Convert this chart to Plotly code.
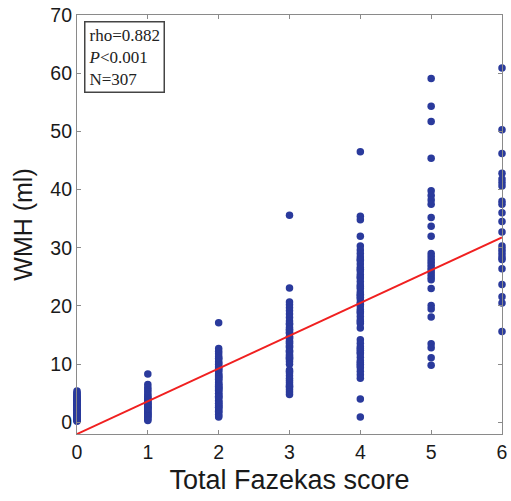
import plotly.graph_objects as go

# Total Fazekas score categories
scores = [0, 1, 2, 3, 4, 5, 6]

# WMH volumes (ml) per Fazekas score
wmh_0 = [0.2, 0.3, 0.4, 0.5, 0.6, 0.65, 0.7, 0.8, 0.9, 1.0, 1.05, 1.1, 1.2, 1.3, 1.4,
         1.45, 1.5, 1.6, 1.7, 1.8, 1.9, 2.0, 2.1, 2.15, 2.2, 2.3, 2.4, 2.5, 2.6, 2.7,
         2.8, 2.9, 3.0, 3.1, 3.2, 3.3, 3.4, 3.5, 3.6, 3.7, 3.8, 3.9, 4.0, 4.1, 4.3,
         4.5, 4.7, 4.9, 5.1, 5.4, 1.25, 2.45, 3.15, 0.85, 1.75, 2.65, 3.55, 4.2]
wmh_1 = [8.3, 6.5, 6.0, 5.6, 5.2, 4.8, 4.5, 4.2, 4.0, 3.9, 3.6, 3.5, 3.3, 3.0, 2.8,
         2.6, 2.5, 2.2, 2.0, 1.8, 1.6, 1.5, 1.3, 1.1, 1.0, 0.8, 0.5, 0.3, 2.4, 3.1]
wmh_2 = [17.1, 12.7, 12.2, 11.8, 11.3, 10.9, 10.4, 10.2, 10.0, 9.6, 9.2, 9.0, 8.8,
         8.4, 8.2, 8.0, 7.9, 7.7, 7.4, 7.1, 6.8, 6.6, 6.5, 6.2, 6.0, 5.9, 5.6, 5.5,
         5.3, 5.0, 4.9, 4.7, 4.5, 4.4, 4.1, 3.8, 3.6, 3.5, 3.2, 3.0, 2.9, 2.6, 2.5,
         2.3, 2.0, 1.9, 1.7, 1.4, 1.1, 0.9, 7.5, 5.8, 4.3, 2.7, 9.4, 11.0, 6.3, 3.3]
wmh_3 = [35.6, 23.1, 20.7, 20.2, 19.7, 19.2, 18.6, 18.0, 17.4, 17.0, 16.8, 16.3,
         15.8, 15.5, 15.3, 14.8, 14.6, 14.4, 14.0, 13.6, 13.2, 13.0, 12.8, 12.4,
         12.2, 12.0, 11.6, 11.2, 11.0, 10.8, 10.4, 10.0, 9.0, 8.8, 8.5, 8.0, 7.6,
         7.2, 6.8, 6.4, 6.2, 6.0, 5.6, 5.2, 4.8, 16.0, 13.8, 11.4]
wmh_4 = [46.5, 35.4, 34.8, 32.0, 30.3, 29.6, 29.0, 28.4, 28.0, 27.8, 27.2, 26.6,
         26.0, 25.4, 25.0, 24.8, 24.2, 23.6, 23.0, 22.4, 22.0, 21.8, 21.5, 21.2,
         20.6, 20.0, 19.4, 19.0, 18.8, 18.2, 17.6, 17.0, 16.2, 14.2, 13.6, 13.0,
         12.4, 12.0, 11.8, 11.2, 10.6, 10.3, 10.0, 9.4, 8.8, 8.2, 7.6, 4.0, 0.9,
         26.3, 23.3, 20.3, 17.3, 12.7, 9.7]
wmh_5 = [59.1, 54.3, 51.7, 45.4, 39.8, 39.0, 38.2, 37.5, 35.2, 33.7, 32.0, 29.0,
         28.5, 28.0, 27.5, 27.0, 26.5, 26.0, 25.5, 25.0, 24.5, 23.0, 20.1, 19.5,
         18.1, 13.5, 12.8, 11.1, 9.8]
wmh_6 = [60.9, 50.3, 46.2, 42.8, 41.8, 41.2, 40.6, 38.0, 37.5, 36.0, 34.5, 32.7,
         30.3, 29.8, 29.3, 28.8, 28.3, 28.0, 26.4, 23.7, 21.6, 20.5, 15.6]

wmh_by_score = [wmh_0, wmh_1, wmh_2, wmh_3, wmh_4, wmh_5, wmh_6]

# Regression line parameters
fit_intercept = -2.0
fit_slope = 5.63

stats_lines = ["rho=0.882", "<i>P</i><0.001", "N=307"]

x_ticks = [0, 1, 2, 3, 4, 5, 6]
y_ticks = [0, 10, 20, 30, 40, 50, 60, 70]

xs, ys = [], []
for s, vals in zip(scores, wmh_by_score):
    xs.extend([s] * len(vals))
    ys.extend(vals)

fit_x = [scores[0], scores[-1]]
fit_y = [fit_intercept + fit_slope * v for v in fit_x]

fig = go.Figure()
fig.add_trace(go.Scatter(
    x=xs, y=ys, mode="markers", cliponaxis=False,
    marker=dict(size=7.5, color="#2a3a9c", line=dict(width=0)),
    showlegend=False,
))
fig.add_trace(go.Scatter(
    x=fit_x, y=fit_y, mode="lines", cliponaxis=True,
    line=dict(color="#f02020", width=2),
    showlegend=False,
))

axis_common = dict(
    showline=True, linecolor="#8a8a8a", linewidth=1.2, mirror="ticks",
    ticks="inside", ticklen=4, tickcolor="#8a8a8a", showgrid=False,
    zeroline=False, ticklabeloverflow="allow", automargin=False,
    tickfont=dict(family="Liberation Sans, Arial", size=19.5, color="#1a1a1a"),
)

fig.update_xaxes(
    range=[0, 6], tickvals=x_ticks, ticktext=[str(t) for t in x_ticks],
    title=dict(text="Total Fazekas score", font=dict(family="Liberation Sans, Arial", size=27, color="#1a1a1a"), standoff=8),
    **axis_common,
)
fig.update_yaxes(
    range=[-2, 70], tickvals=y_ticks, ticktext=[str(t) for t in y_ticks],
    title=dict(text="WMH (ml)", font=dict(family="Liberation Sans, Arial", size=25, color="#1a1a1a"), standoff=10),
    **axis_common,
)

fig.add_annotation(
    xref="paper", yref="paper", x=0.016, y=0.985, xanchor="left", yanchor="top",
    text="<br>".join(stats_lines), showarrow=False, align="left",
    font=dict(family="Liberation Serif, Times New Roman", size=17, color="#222"),
    bordercolor="#444", borderwidth=1.5, borderpad=3, bgcolor="white",
)

fig.update_layout(
    width=511, height=501,
    margin=dict(l=77, r=9, t=15, b=67),
    paper_bgcolor="white", plot_bgcolor="white",
)

fig.write_html("out.html")
